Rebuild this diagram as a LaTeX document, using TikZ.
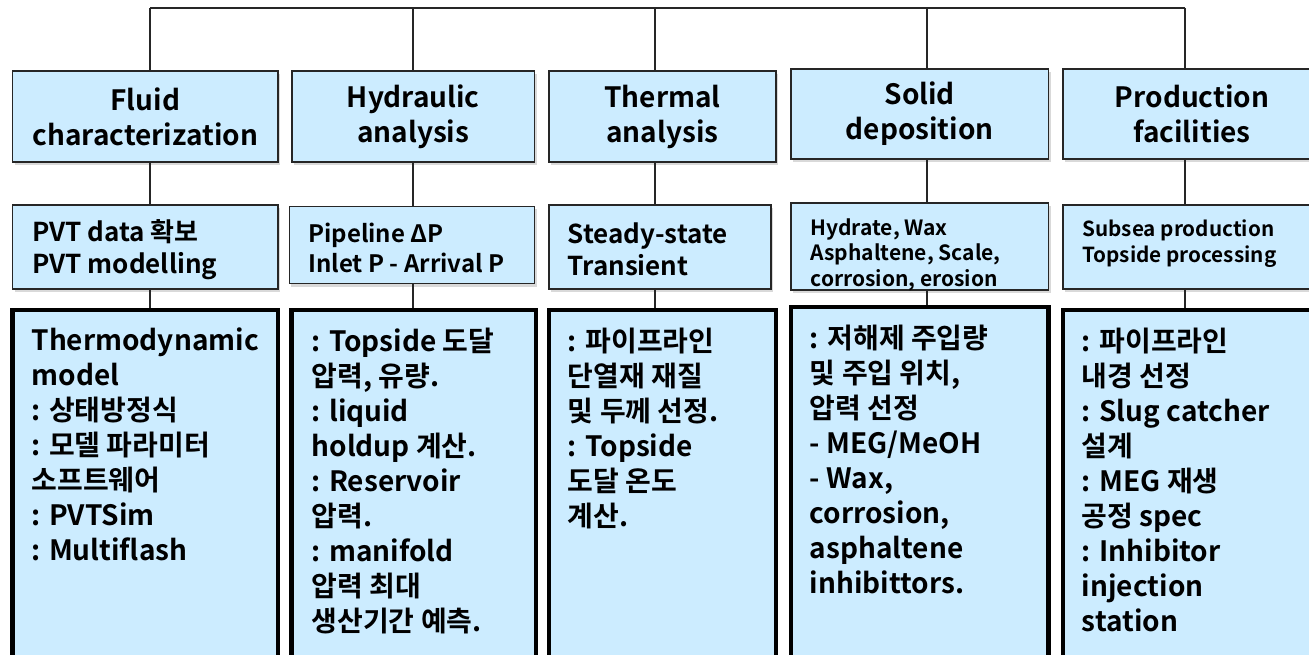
\documentclass[tikz,border=0pt]{standalone}
\usepackage{fontspec}
\setmainfont{Noto Sans CJK KR}[BoldFont={Noto Sans CJK KR Bold}]
\usetikzlibrary{positioning,shadows}
\definecolor{boxblue}{RGB}{204,236,255}

\begin{document}
\begin{tikzpicture}[x=1pt, y=-1pt,
    boxshade/.style={drop shadow={shadow xshift=2pt, shadow yshift=-3pt, opacity=.3}},
    headbox/.style={draw=black!85, line width=1.3pt, fill=boxblue, boxshade,
                    align=center, inner sep=0pt,
                    font=\fontsize{28}{35}\selectfont\bfseries},
    topicbox/.style={draw=black!85, line width=1.3pt, fill=boxblue, boxshade},
    topictext/.style={align=left, inner sep=0pt},
    detailbox/.style={draw=black, line width=4.5pt, fill=boxblue, boxshade},
    detailtext/.style={align=left, inner sep=0pt,
                       font=\fontsize{28}{35}\selectfont\bfseries},
    link/.style={draw=black!85, line width=1.3pt}]

    \useasboundingbox (0,0) rectangle (1309,655);

    % Column tops on the bus
    \coordinate (c1) at (150,8);
    \coordinate (c2) at (413,8);
    \coordinate (c3) at (655,8);
    \coordinate (c4) at (927,8);
    \coordinate (c5) at (1185,8);

    % Headings
    \node[headbox, minimum width=265.4pt, minimum height=91pt] (h1) at (145.3,116.5)
        {Fluid\\characterization};
    \node[headbox, minimum width=242.5pt, minimum height=91pt] (h2) at (413.25,116.5)
        {Hydraulic\\analysis};
    \node[headbox, minimum width=227pt, minimum height=91pt] (h3) at (662.5,116.5)
        {Thermal\\analysis};
    \node[headbox, minimum width=257.5pt, minimum height=90pt] (h4) at (919.75,114)
        {Solid\\deposition};
    \node[headbox, minimum width=258pt, minimum height=90pt] (h5) at (1192,114)
        {Production\\facilities};

    % Topics
    \node[topicbox, minimum width=265.4pt, minimum height=84pt] (m1) at (145.3,247) {};
    \node[topicbox, minimum width=245.5pt, minimum height=77pt] (m2) at (412,245) {};
    \node[topicbox, minimum width=222pt, minimum height=84pt] (m3) at (660,247) {};
    \node[topicbox, minimum width=257.5pt, minimum height=87pt] (m4) at (919.75,246.5) {};
    \node[topicbox, minimum width=258pt, minimum height=84pt] (m5) at (1192,247) {};

    \node[topictext, right=20pt of m1.west, yshift=-3pt,
          font=\fontsize{26}{32}\selectfont\bfseries] (m1t)
        {PVT data 확보\\PVT modelling};
    \node[topictext, right=19.5pt of m2.west, yshift=-3pt,
          font=\fontsize{24}{30}\selectfont\bfseries] (m2t)
        {Pipeline ΔP\\Inlet P - Arrival P};
    \node[topictext, right=19pt of m3.west, yshift=-2pt,
          font=\fontsize{26}{32}\selectfont\bfseries] (m3t)
        {Steady-state\\Transient};
    \node[topictext, right=20pt of m4.west, yshift=-8pt,
          font=\fontsize{21}{25.5}\selectfont\bfseries] (m4t)
        {Hydrate, Wax\\Asphaltene, Scale,\\corrosion, erosion};
    \node[topictext, right=20pt of m5.west, yshift=3pt,
          font=\fontsize{20.7}{26}\selectfont\bfseries] (m5t)
        {Subsea production\\Topside processing};

    % Details
    \node[detailbox, minimum width=265.4pt, minimum height=355pt] (d1) at (145.3,487.5) {};
    \node[detailbox, minimum width=244.3pt, minimum height=355pt] (d2) at (413.85,487.5) {};
    \node[detailbox, minimum width=227pt, minimum height=355pt] (d3) at (662.5,487.5) {};
    \node[detailbox, minimum width=257.5pt, minimum height=358pt] (d4) at (919.75,486) {};
    \node[detailbox, minimum width=258pt, minimum height=355pt] (d5) at (1192,487.5) {};

    \node[detailtext, below right=20pt and 21pt of d1.north west] (d1t)
        {Thermodynamic\\model\\: 상태방정식\\: 모델 파라미터\\소프트웨어\\: PVTSim\\: Multiflash};
    \node[detailtext, below right=20pt and 22pt of d2.north west] (d2t)
        {: Topside 도달\\압력, 유량.\\: liquid\\holdup 계산.\\: Reservoir\\압력.\\: manifold\\압력 최대\\생산기간 예측.};
    \node[detailtext, below right=20pt and 21pt of d3.north west] (d3t)
        {: 파이프라인\\단열재 재질\\및 두께 선정.\\: Topside\\도달 온도\\계산.};
    \node[detailtext, below right=20pt and 21pt of d4.north west] (d4t)
        {: 저해제 주입량\\및 주입 위치,\\압력 선정\\- MEG/MeOH\\- Wax,\\corrosion,\\asphaltene\\inhibittors.};
    \node[detailtext, below right=20pt and 21pt of d5.north west] (d5t)
        {: 파이프라인\\내경 선정\\: Slug catcher\\설계\\: MEG 재생\\공정 spec\\: Inhibitor\\injection\\station};

    % Bus and drops
    \draw[link] (c1) -- (c5);
    \draw[link] (c1) -- (c1 |- h1.north);
    \draw[link] (c2) -- (c2 |- h2.north);
    \draw[link] (c3) -- (c3 |- h3.north);
    \draw[link] (c4) -- (c4 |- h4.north);
    \draw[link] (c5) -- (c5 |- h5.north);

    % Heading to topic
    \draw[link] (c1 |- h1.south) -- (c1 |- m1.north);
    \draw[link] (c2 |- h2.south) -- (c2 |- m2.north);
    \draw[link] (c3 |- h3.south) -- (c3 |- m3.north);
    \draw[link] (c4 |- h4.south) -- (c4 |- m4.north);
    \draw[link] (c5 |- h5.south) -- (c5 |- m5.north);

    % Topic to details
    \draw[link] (c1 |- m1.south) -- (c1 |- d1.north);
    \draw[link] (c2 |- m2.south) -- (c2 |- d2.north);
    \draw[link] (c3 |- m3.south) -- (c3 |- d3.north);
    \draw[link] (c4 |- m4.south) -- (c4 |- d4.north);
    \draw[link] (c5 |- m5.south) -- (c5 |- d5.north);

\end{tikzpicture}
\end{document}
